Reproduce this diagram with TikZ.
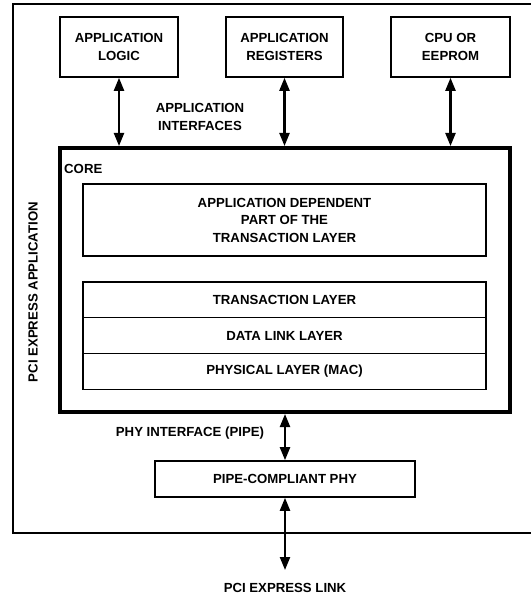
\documentclass[tikz,border=0pt]{standalone}
\usepackage{fontspec}
\setmainfont{Liberation Sans}
\usetikzlibrary{arrows.meta}
\begin{document}
\begin{tikzpicture}[x=1pt,y=-1pt,
  box/.style={draw,line width=1.6pt,rectangle,inner sep=0pt,align=center,font=\bfseries\fontsize{13.2}{17.5}\selectfont},
  lbl/.style={inner sep=0pt,align=center,font=\bfseries\fontsize{13.2}{17.5}\selectfont},
  link/.style={line width=2.2pt,{Triangle[length=13pt,width=10pt]}-{Triangle[length=13pt,width=10pt]}}]
\useasboundingbox (0,0) rectangle (530,596);
\draw[line width=1.6pt] (13,4) rectangle (540,533);
\node[box,minimum width=118,minimum height=60] (al) at (119,47) {APPLICATION\\LOGIC};
\node[box,minimum width=117,minimum height=60] (ar) at (284.5,47) {APPLICATION\\REGISTERS};
\node[box,minimum width=119,minimum height=60] (cpu) at (450.5,47) {CPU OR\\EEPROM};
\node[draw,line width=4pt,inner sep=0pt,minimum width=450,minimum height=264] (core) at (285,280) {};
\node[lbl,anchor=west] (corel) at (64,169) {CORE};
\node[box,minimum width=403,minimum height=72] (adp) at (284.5,220) {APPLICATION DEPENDENT\\PART OF THE\\TRANSACTION LAYER};
\node[box,minimum width=403,minimum height=35.5] (tl) at (284.5,299.75) {TRANSACTION LAYER};
\node[box,minimum width=403,minimum height=36] (dll) at (284.5,335.5) {DATA LINK LAYER};
\node[box,minimum width=403,minimum height=36] (phy) at (284.5,371.5) {PHYSICAL LAYER (MAC)};
\node[box,minimum width=260,minimum height=36] (pipe) at (285,479) {PIPE-COMPLIANT PHY};
\node[lbl] (ai) at (200,117) {APPLICATION\\INTERFACES};
\node[lbl] (pi) at (190,433) {PHY INTERFACE (PIPE)};
\node[lbl,rotate=90] (pea) at (33,292) {PCI EXPRESS APPLICATION};
\node[lbl] (pel) at (285,588) {PCI EXPRESS LINK};
\coordinate (linkend) at (285,570);
\draw[link] (al.south) -- (al.south |- core.north);
\draw[link] (ar.south) -- (ar.south |- core.north);
\draw[link] (cpu.south) -- (cpu.south |- core.north);
\draw[link] (core.south) -- (pipe.north);
\draw[link] (pipe.south) -- (linkend);
\end{tikzpicture}
\end{document}
